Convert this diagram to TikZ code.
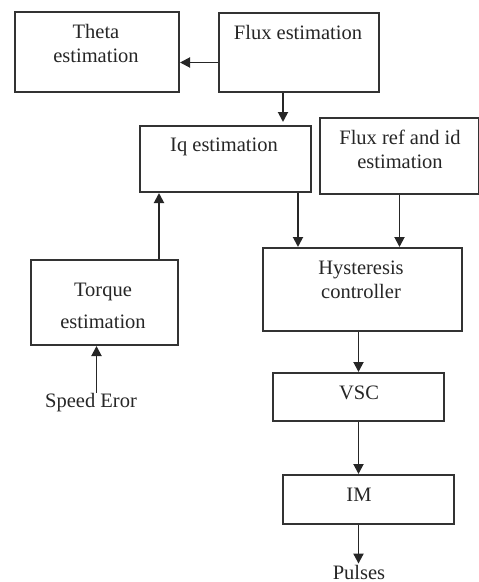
\documentclass[tikz,border=0pt]{standalone}
\usepackage{fontspec}
\setmainfont{Liberation Serif}
\usetikzlibrary{arrows.meta}
\begin{document}
\begin{tikzpicture}[x=1pt,y=-1pt,
 box/.style={draw=black!80, line width=2pt, inner sep=0pt, anchor=north west},
 txt/.style={font=\fontsize{20.5}{24}\selectfont, align=center, text=black!85, inner sep=1pt},
 arr/.style={draw=black!85, line width=1.9pt, -{Triangle[length=10pt,width=10pt]}}]
\useasboundingbox (0,0) rectangle (479,582);
% boxes
\node[box, minimum width=164pt, minimum height=80pt] (theta) at (14,11) {};
\node[box, minimum width=160pt, minimum height=79pt] (flux) at (218,12) {};
\node[box, minimum width=171pt, minimum height=66pt] (iq) at (139,125) {};
\node[box, minimum width=159pt, minimum height=76pt] (fref) at (319,117) {};
\node[box, minimum width=199pt, minimum height=83pt] (hyst) at (262,247) {};
\node[box, minimum width=147pt, minimum height=85pt] (torque) at (30,259) {};
\node[box, minimum width=171pt, minimum height=48pt] (vsc) at (272,372) {};
\node[box, minimum width=171pt, minimum height=49pt] (im) at (282,474) {};
% texts
\node[txt] (thetat) at (96,43) {Theta\\estimation};
\node[txt] (fluxt) at (298,32) {Flux estimation};
\node[txt] (iqt) at (224,147) {Iq estimation};
\node[txt] (freft) at (400,149) {Flux ref and id\\estimation};
\node[txt] (hystt) at (361,280) {Hysteresis\\controller};
\node[txt] (torquet) at (103,306) {Torque\\[8pt]estimation};
\node[txt] (vsct) at (359,393) {VSC};
\node[txt] (imt) at (359,495) {IM};
\node[txt] (speed) at (91,403) {Speed Eror};
\node[txt] (pulses) at (359,572) {Pulses};
% connectors
\draw[arr] ([yshift=-10pt]flux.west) -- ([yshift=-10pt]flux.west -| theta.east);
\draw[arr, shorten >=3pt] ([xshift=-16pt]flux.south) -- ([xshift=-16pt]flux.south |- iq.north);
\draw[arr] ([xshift=-14pt]iq.south east) -- ([xshift=-14pt]iq.south east |- hyst.north);
\draw[arr] (fref.south) -- (fref.south |- hyst.north);
\draw[arr] ([xshift=-20pt]torque.north east) -- ([xshift=-20pt]torque.north east |- iq.south);
\coordinate (tx) at ([xshift=-8pt]torque.south);
\draw[arr] (speed.north -| tx) -- (tx);
\draw[arr] (vsc.north |- hyst.south) -- (vsc.north);
\draw[arr] (vsc.south) -- (vsc.south |- im.north);
\draw[arr] (vsc.south |- im.south) -- (vsc.south |- pulses.north);
\end{tikzpicture}
\end{document}
